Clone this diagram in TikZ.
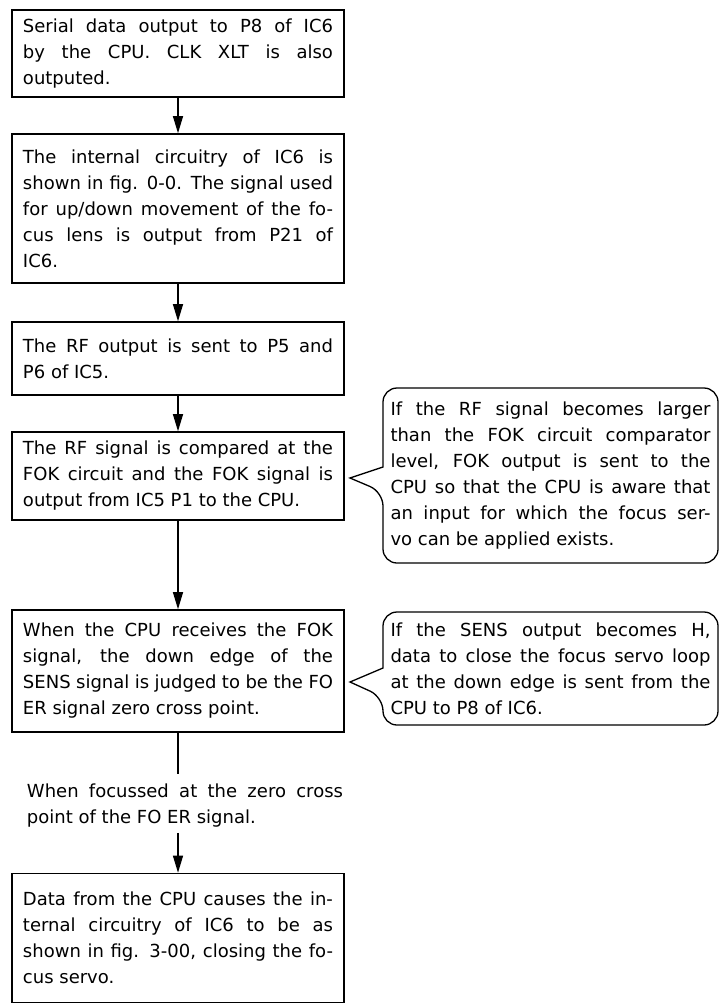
\documentclass[tikz,border=0pt]{standalone}
\usepackage{fontspec}
\setmainfont{DejaVu Sans}
\usetikzlibrary{arrows.meta}
\newcommand{\txtfont}{\fontsize{18}{26}\selectfont\tolerance=10000\hbadness=10000\hyphenpenalty=10000\exhyphenpenalty=10000}
\tikzset{
  stepbox/.style={draw, line width=1.6pt, text width=310pt, inner xsep=11pt, inner ysep=0pt,
    align=justify, font=\txtfont},
  freetext/.style={inner sep=0pt, align=justify, font=\txtfont},
  calltext/.style={inner sep=0pt, text width=320pt, align=justify, font=\txtfont},
  callframe/.style={line width=1.3pt},
  flowarrow/.style={line width=1.2pt, -{Triangle[length=17pt,width=10pt]}},
  flowline/.style={line width=1.2pt}
}
\begin{document}
\begin{tikzpicture}[x=1pt,y=-1pt]
\fill[white] (0,0) rectangle (724,1005);
\useasboundingbox (0,0) rectangle (724,1005);

\node[stepbox, minimum height=87pt] (b1) at (178,53.5)
  {Serial data output to P8 of IC6\linebreak by the CPU. CLK XLT is also\linebreak outputed.};
\node[stepbox, minimum height=149pt] (b2) at (178,208.5)
  {The internal circuitry of IC6 is\linebreak shown in fig. 0-0. The signal used\linebreak for up/down movement of the fo-\linebreak cus lens is output from P21 of\linebreak IC6.};
\node[stepbox, minimum height=73pt] (b3) at (178,358.5)
  {The RF output is sent to P5 and\linebreak P6 of IC5.};
\node[stepbox, minimum height=88pt] (b4) at (178,476)
  {\parfillskip=0pt The RF signal is compared at the\linebreak FOK circuit and the FOK signal is\linebreak output from IC5 P1 to the CPU.};
\node[stepbox, minimum height=122pt] (b5) at (178,671)
  {When the CPU receives the FOK\linebreak signal, the down edge of the\linebreak SENS signal is judged to be the FO\linebreak ER signal zero cross point.};
\node[freetext, text width=316pt] (t) at (185,806)
  {When focussed at the zero cross\linebreak point of the FO ER signal.};
\node[stepbox, minimum height=129pt] (b6) at (178,938)
  {Data from the CPU causes the in-\linebreak ternal circuitry of IC6 to be as\linebreak shown in fig. 3-00, closing the fo-\linebreak cus servo.};

\draw[flowarrow] (b1.south) -- (b2.north);
\draw[flowarrow] (b2.south) -- (b3.north);
\draw[flowarrow] (b3.south) -- (b4.north);
\draw[flowarrow] (b4.south) -- (b5.north);
\draw[flowline, shorten >=10pt] (b5.south) -- (b5.south |- t.north);
\draw[flowarrow, shorten <=5pt] (b6.north |- t.south) -- (b6.north);

\node[calltext] (c1) at (550.5,475.5)
  {If the RF signal becomes larger\linebreak than the FOK circuit comparator\linebreak level, FOK output is sent to the\linebreak CPU so that the CPU is aware that\linebreak an input for which the focus ser-\linebreak vo can be applied exists.};
\draw[callframe] (383,467) [rounded corners=14pt] -- (383,388) -- (718,388) -- (718,563) -- (383,563) -- (383,492) [sharp corners] -- (350,478) -- cycle;

\node[calltext] (c2) at (550.5,668.5)
  {If the SENS output becomes H,\linebreak data to close the focus servo loop\linebreak at the down edge is sent from the\linebreak CPU to P8 of IC6.};
\draw[callframe] (383,668) [rounded corners=14pt] -- (383,612) -- (718,612) -- (718,725) -- (383,725) -- (383,697) [sharp corners] -- (350,682) -- cycle;
\end{tikzpicture}
\end{document}
